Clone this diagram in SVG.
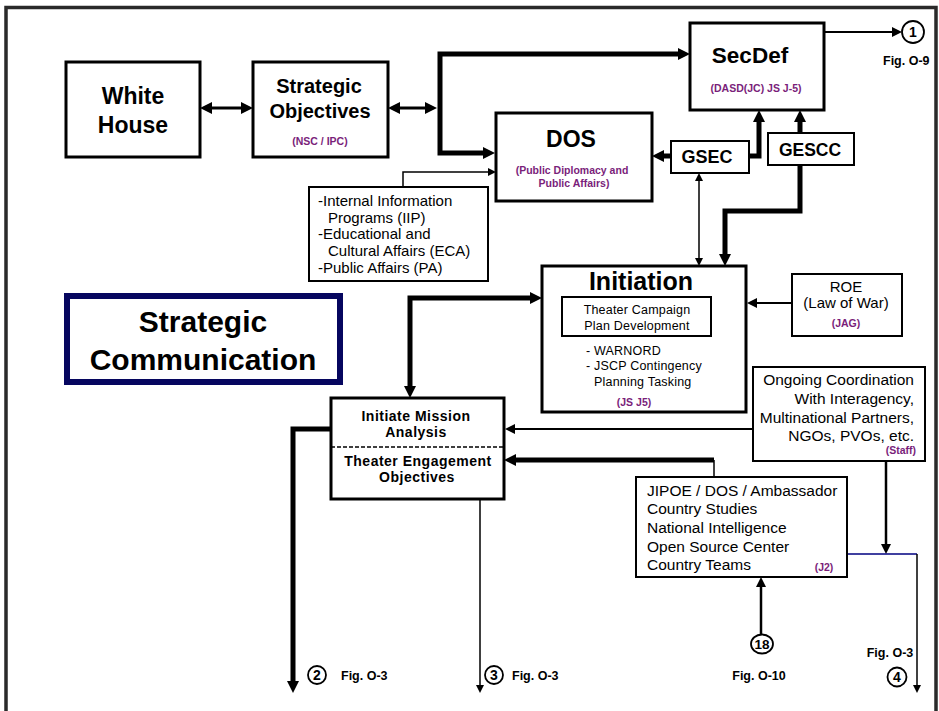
<svg xmlns="http://www.w3.org/2000/svg" width="939" height="711" viewBox="0 0 939 711">
<defs>
<style>
.box{fill:#fff;stroke:#000;stroke-width:3}
.bx2{fill:#fff;stroke:#000;stroke-width:2}
.t{font-family:"Liberation Sans",Arial,sans-serif;fill:#000}
.b{font-weight:bold}
.p{font-family:"Liberation Sans",Arial,sans-serif;font-weight:bold;fill:#7a1e7a;font-size:10.5px}
.c{text-anchor:middle}
.e{text-anchor:end}
.fig{font-family:"Liberation Sans",Arial,sans-serif;font-weight:bold;font-size:12.5px;fill:#000}
.thick{fill:none;stroke:#000;stroke-width:5;stroke-linejoin:miter}
.med{fill:none;stroke:#000;stroke-width:2.5}
.thin{fill:none;stroke:#000;stroke-width:1.5}
.circ{fill:#fff;stroke:#000;stroke-width:1.8}
.ima{font-size:14px;letter-spacing:0.5px}
</style>
<marker id="aL" viewBox="0 0 12 12" markerWidth="12" markerHeight="12" markerUnits="userSpaceOnUse" refX="1" refY="6" orient="auto-start-reverse"><path d="M0,0 L12,6 L0,12 z" fill="#000"/></marker>
<marker id="aM" viewBox="0 0 10 10" markerWidth="10" markerHeight="10" markerUnits="userSpaceOnUse" refX="1" refY="5" orient="auto-start-reverse"><path d="M0,0 L10,5 L0,10 z" fill="#000"/></marker>
<marker id="aS" viewBox="0 0 8 8" markerWidth="8" markerHeight="8" markerUnits="userSpaceOnUse" refX="1" refY="4" orient="auto-start-reverse"><path d="M0,0 L8,4 L0,8 z" fill="#000"/></marker>
</defs>
<rect width="939" height="711" fill="#fff"/>
<path d="M6,715 V7.5 H936 V715" fill="none" stroke="#2a2a2a" stroke-width="3.5"/>

<g id="connectors">
<path d="M211,108 H242" fill="none" stroke="#000" stroke-width="3" marker-start="url(#aL)" marker-end="url(#aL)"/>
<path d="M399,108 H426" fill="none" stroke="#000" stroke-width="3" marker-start="url(#aL)" marker-end="url(#aL)"/>
<path class="thick" d="M679,54 H440 V153 H484" marker-start="url(#aL)" marker-end="url(#aL)"/>
<path class="thin" d="M403,187 V172 H489" marker-end="url(#aS)"/>
<path class="thick" d="M671,156 H663" marker-end="url(#aL)"/>
<path class="thick" d="M749,156 H759 V121" marker-end="url(#aL)"/>
<path class="thick" d="M800,133 V121" marker-end="url(#aL)"/>
<path class="thick" d="M800,165 V211 H725 V255" marker-end="url(#aL)"/>
<path class="thin" d="M699,180 V259" marker-start="url(#aS)" marker-end="url(#aS)"/>
<path class="thick" d="M531,298 H410 V387" marker-start="url(#aL)" marker-end="url(#aL)"/>
<path fill="none" stroke="#000" stroke-width="2" d="M792,303 H756" marker-end="url(#aM)"/>
<path fill="none" stroke="#000" stroke-width="1.8" d="M753,429 H514" marker-end="url(#aM)"/>
<path class="thin" d="M714,477 V460"/>
<path class="thick" d="M714,460 H515" marker-end="url(#aL)"/>
<path class="thick" d="M331,429 H293 V682" marker-end="url(#aL)"/>
<path class="thin" d="M480,499 V686" marker-end="url(#aS)"/>
<path class="med" d="M886,461 V545" marker-end="url(#aM)"/>
<path d="M847,554 H917" fill="none" stroke="#000080" stroke-width="1.5"/>
<path class="thin" d="M917,554 V686" marker-end="url(#aS)"/>
<path class="med" d="M761,634 V586" marker-end="url(#aM)"/>
<path fill="none" stroke="#000" stroke-width="2" d="M824,32 H893" marker-end="url(#aM)"/>
</g>

<g id="white-house">
<rect class="box" x="66" y="62" width="134" height="95"/>
<text class="t b c" x="133" y="104" font-size="23">White</text>
<text class="t b c" x="133" y="133" font-size="23">House</text>
</g>

<g id="strategic-objectives">
<rect class="box" x="253" y="62" width="135" height="95"/>
<text class="t b c" x="319" y="93" font-size="20">Strategic</text>
<text class="t b c" x="320" y="118" font-size="20">Objectives</text>
<text class="p c" x="320" y="145">(NSC / IPC)</text>
</g>

<g id="secdef">
<rect class="box" x="690" y="23" width="134" height="87"/>
<text class="t b c" x="750" y="63" font-size="22.5">SecDef</text>
<text class="p c" x="756" y="92">(DASD(JC) JS J-5)</text>
</g>

<g id="ref-1">
<circle class="circ" cx="913" cy="32" r="11"/>
<text class="t b c" x="913" y="37" font-size="14">1</text>
<text class="fig" x="883" y="65">Fig. O-9</text>
</g>

<g id="dos">
<rect class="box" x="496" y="113" width="156" height="88"/>
<text class="t b c" x="571" y="147" font-size="23">DOS</text>
<text class="p c" x="572" y="174">(Public Diplomacy and</text>
<text class="p c" x="574" y="187">Public Affairs)</text>
</g>

<g id="gsec">
<rect class="bx2" x="671" y="141" width="78" height="32"/>
<text class="t b c" x="707" y="163" font-size="18">GSEC</text>
</g>

<g id="gescc">
<rect class="bx2" x="768" y="133" width="86" height="32"/>
<text class="t b c" x="810" y="156" font-size="17.5">GESCC</text>
</g>

<g id="iip">
<rect class="bx2" x="309" y="187" width="179" height="94"/>
<text class="t" x="318" y="206" font-size="15">-Internal Information</text>
<text class="t" x="328" y="223" font-size="15">Programs (IIP)</text>
<text class="t" x="318" y="239" font-size="15">-Educational and</text>
<text class="t" x="328" y="256" font-size="15">Cultural Affairs (ECA)</text>
<text class="t" x="318" y="273" font-size="15">-Public Affairs (PA)</text>
</g>

<g id="strategic-communication">
<rect x="67" y="296" width="273" height="86" fill="#fff" stroke="#06065f" stroke-width="6"/>
<text class="t b c" x="203" y="332" font-size="30">Strategic</text>
<text class="t b c" x="203" y="370" font-size="30">Communication</text>
</g>

<g id="initiation">
<rect class="box" x="542" y="266" width="204" height="146"/>
<text class="t b c" x="641" y="290" font-size="25">Initiation</text>
<rect class="bx2" x="562" y="297" width="149" height="39"/>
<text class="t c" x="637" y="314" font-size="12.5" letter-spacing="0.2">Theater Campaign</text>
<text class="t c" x="637" y="330" font-size="12.5" letter-spacing="0.2">Plan Development</text>
<text class="t" x="586" y="355" font-size="12.5" letter-spacing="0.2">- WARNORD</text>
<text class="t" x="586" y="370" font-size="12.5" letter-spacing="0.2">- JSCP Contingency</text>
<text class="t" x="594" y="386" font-size="12.5" letter-spacing="0.2">Planning Tasking</text>
<text class="p c" x="634" y="406">(JS J5)</text>
</g>

<g id="roe">
<rect class="bx2" x="792" y="274" width="110" height="62"/>
<text class="t c" x="846" y="292" font-size="15">ROE</text>
<text class="t c" x="846" y="308" font-size="15">(Law of War)</text>
<text class="p c" x="846" y="327" font-size="10">(JAG)</text>
</g>

<g id="ongoing-coordination">
<rect class="bx2" x="753" y="367" width="172" height="94"/>
<text class="t e" x="914" y="385" font-size="15.5">Ongoing Coordination</text>
<text class="t e" x="914" y="404" font-size="15.5">With Interagency,</text>
<text class="t e" x="914" y="423" font-size="15.5">Multinational Partners,</text>
<text class="t e" x="914" y="441" font-size="15.5">NGOs, PVOs, etc.</text>
<text class="p e" x="916" y="454" font-size="10">(Staff)</text>
</g>

<g id="initiate-mission-analysis">
<rect class="box" x="331" y="398" width="173" height="101"/>
<text class="t b c ima" x="416" y="421">Initiate Mission</text>
<text class="t b c ima" x="416" y="437">Analysis</text>
<line x1="331" y1="447" x2="504" y2="447" stroke="#000" stroke-width="1.6" stroke-dasharray="4,2"/>
<text class="t b c ima" x="418" y="466">Theater Engagement</text>
<text class="t b c ima" x="417" y="482">Objectives</text>
</g>

<g id="jipoe">
<rect class="bx2" x="636" y="477" width="211" height="100"/>
<text class="t" x="647" y="496" font-size="15.5">JIPOE / DOS / Ambassador</text>
<text class="t" x="647" y="514" font-size="15.5">Country Studies</text>
<text class="t" x="647" y="533" font-size="15.5">National Intelligence</text>
<text class="t" x="647" y="552" font-size="15.5">Open Source Center</text>
<text class="t" x="647" y="570" font-size="15.5">Country Teams</text>
<text class="p c" x="824" y="571" font-size="10">(J2)</text>
</g>

<g id="ref-2">
<circle class="circ" cx="317" cy="675" r="9"/>
<text class="t b c" x="317" y="680" font-size="14">2</text>
<text class="fig" x="341" y="680">Fig. O-3</text>
</g>

<g id="ref-3">
<circle class="circ" cx="494" cy="675" r="9"/>
<text class="t b c" x="494" y="680" font-size="14">3</text>
<text class="fig" x="512" y="680">Fig. O-3</text>
</g>

<g id="ref-18">
<ellipse class="circ" cx="762" cy="644" rx="11" ry="9.5"/>
<text class="t b c" x="762" y="649" font-size="13.5">18</text>
<text class="fig c" x="759" y="680">Fig. O-10</text>
</g>

<g id="ref-4">
<circle class="circ" cx="897" cy="677" r="9.5"/>
<text class="t b c" x="897" y="682" font-size="14">4</text>
<text class="fig c" x="890" y="657">Fig. O-3</text>
</g>
</svg>
